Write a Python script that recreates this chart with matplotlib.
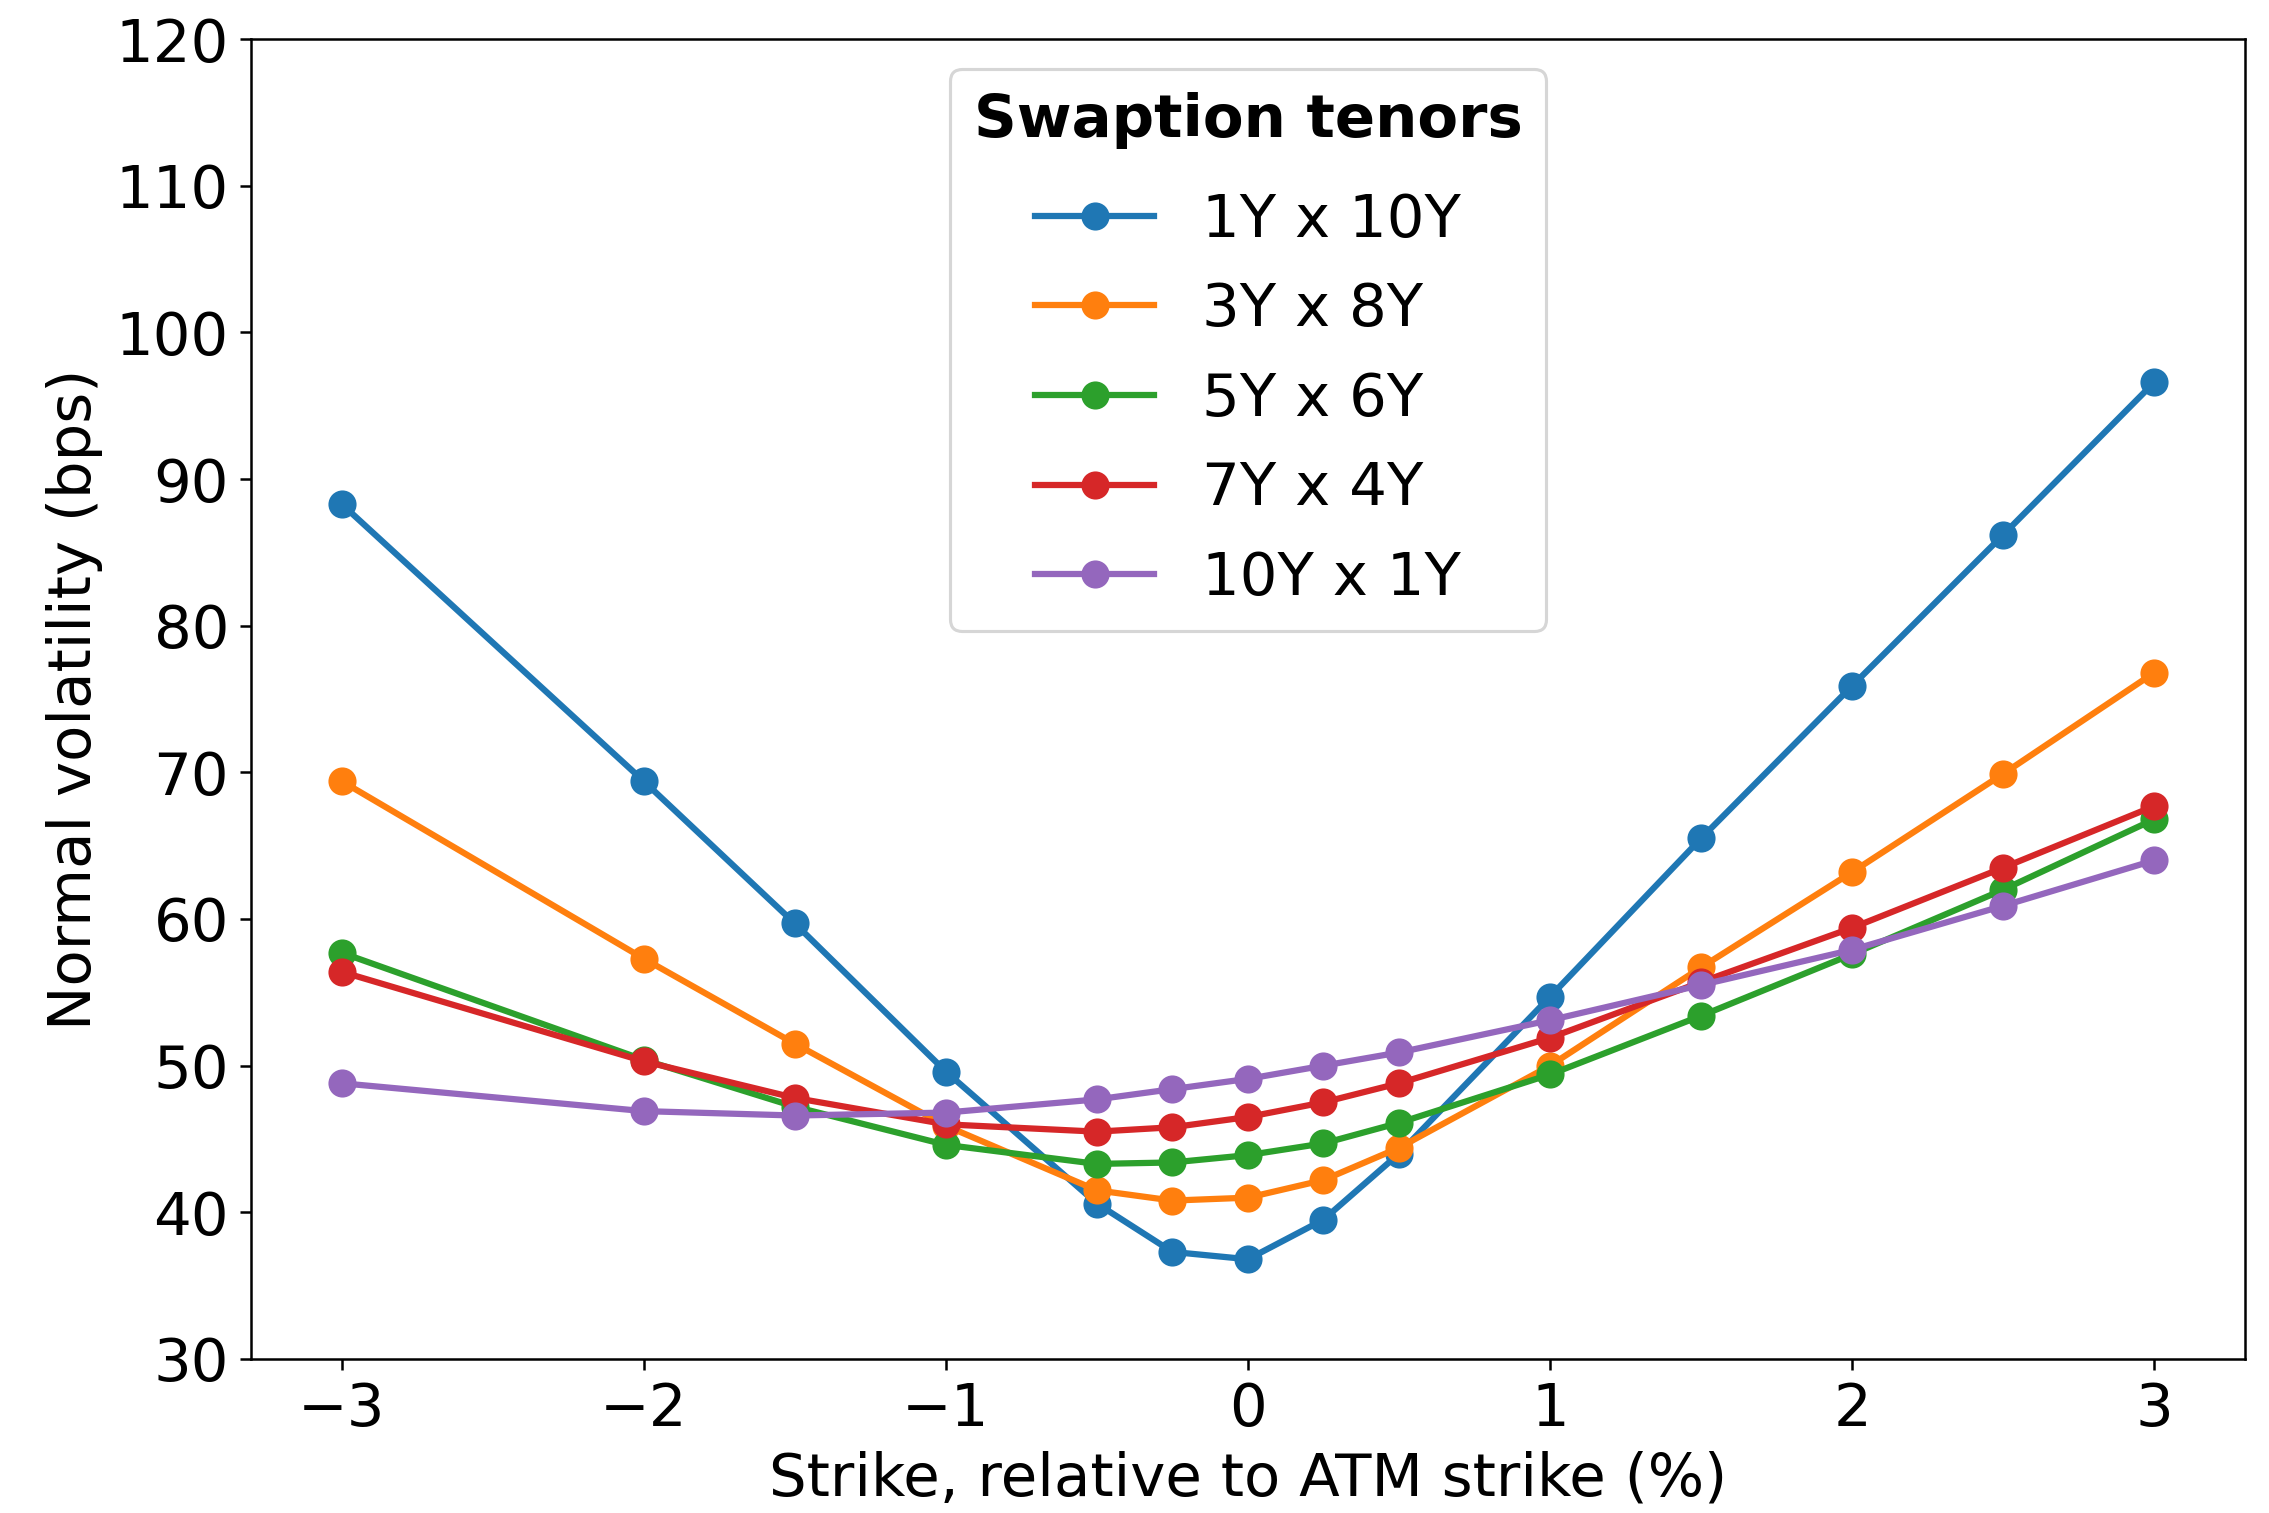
import numpy as np
import matplotlib.pyplot as plt

strikes = [-3, -2, -1.5, -1, -0.5, -0.25, 0, 0.25, 0.5, 1, 1.5, 2, 2.5, 3]

vol_1y10y = [88.3, 69.4, 59.7, 49.6, 40.6, 37.3, 36.8, 39.5, 44.0, 54.7, 65.5, 75.9, 86.2, 96.6]
vol_3y8y = [69.4, 57.3, 51.5, 45.9, 41.5, 40.8, 41.0, 42.2, 44.4, 50.0, 56.7, 63.2, 69.9, 76.8]
vol_5y6y = [57.7, 50.4, 47.2, 44.6, 43.3, 43.4, 43.9, 44.7, 46.1, 49.4, 53.4, 57.6, 62.0, 66.8]
vol_7y4y = [56.4, 50.3, 47.8, 46.0, 45.5, 45.8, 46.5, 47.5, 48.8, 51.9, 55.7, 59.4, 63.5, 67.7]
vol_10y1y = [48.8, 46.9, 46.6, 46.8, 47.7, 48.4, 49.1, 50.0, 50.9, 53.1, 55.5, 57.9, 60.9, 64.0]

labels = ['1Y x 10Y', '3Y x 8Y', '5Y x 6Y', '7Y x 4Y', '10Y x 1Y']
series = [vol_1y10y, vol_3y8y, vol_5y6y, vol_7y4y, vol_10y1y]

fig, ax = plt.subplots(figsize=(2269 / 225, 1513 / 225), dpi=225)
fig.subplots_adjust(left=0.1106, right=0.9894, bottom=0.1018, top=0.9742)

for vals, lab in zip(series, labels):
    ax.plot(strikes, vals, marker='o', linewidth=2, markersize=8, label=lab)

ax.set_ylim(30, 120)
ax.set_xticks([-3, -2, -1, 0, 1, 2, 3])
ax.tick_params(labelsize=19)
ax.set_xlabel('Strike, relative to ATM strike (%)', fontsize=19)
ax.set_ylabel('Normal volatility (bps)', fontsize=19)

leg = ax.legend(title='Swaption tenors', loc='upper center',
                fontsize=19, title_fontproperties={'weight': 'bold', 'size': 19},
                labelspacing=0.55)
# a bit more room between the title and the first entry
leg._legend_box.sep = 0.55 * 19 + 3

fig.savefig('out.png', dpi=225)
